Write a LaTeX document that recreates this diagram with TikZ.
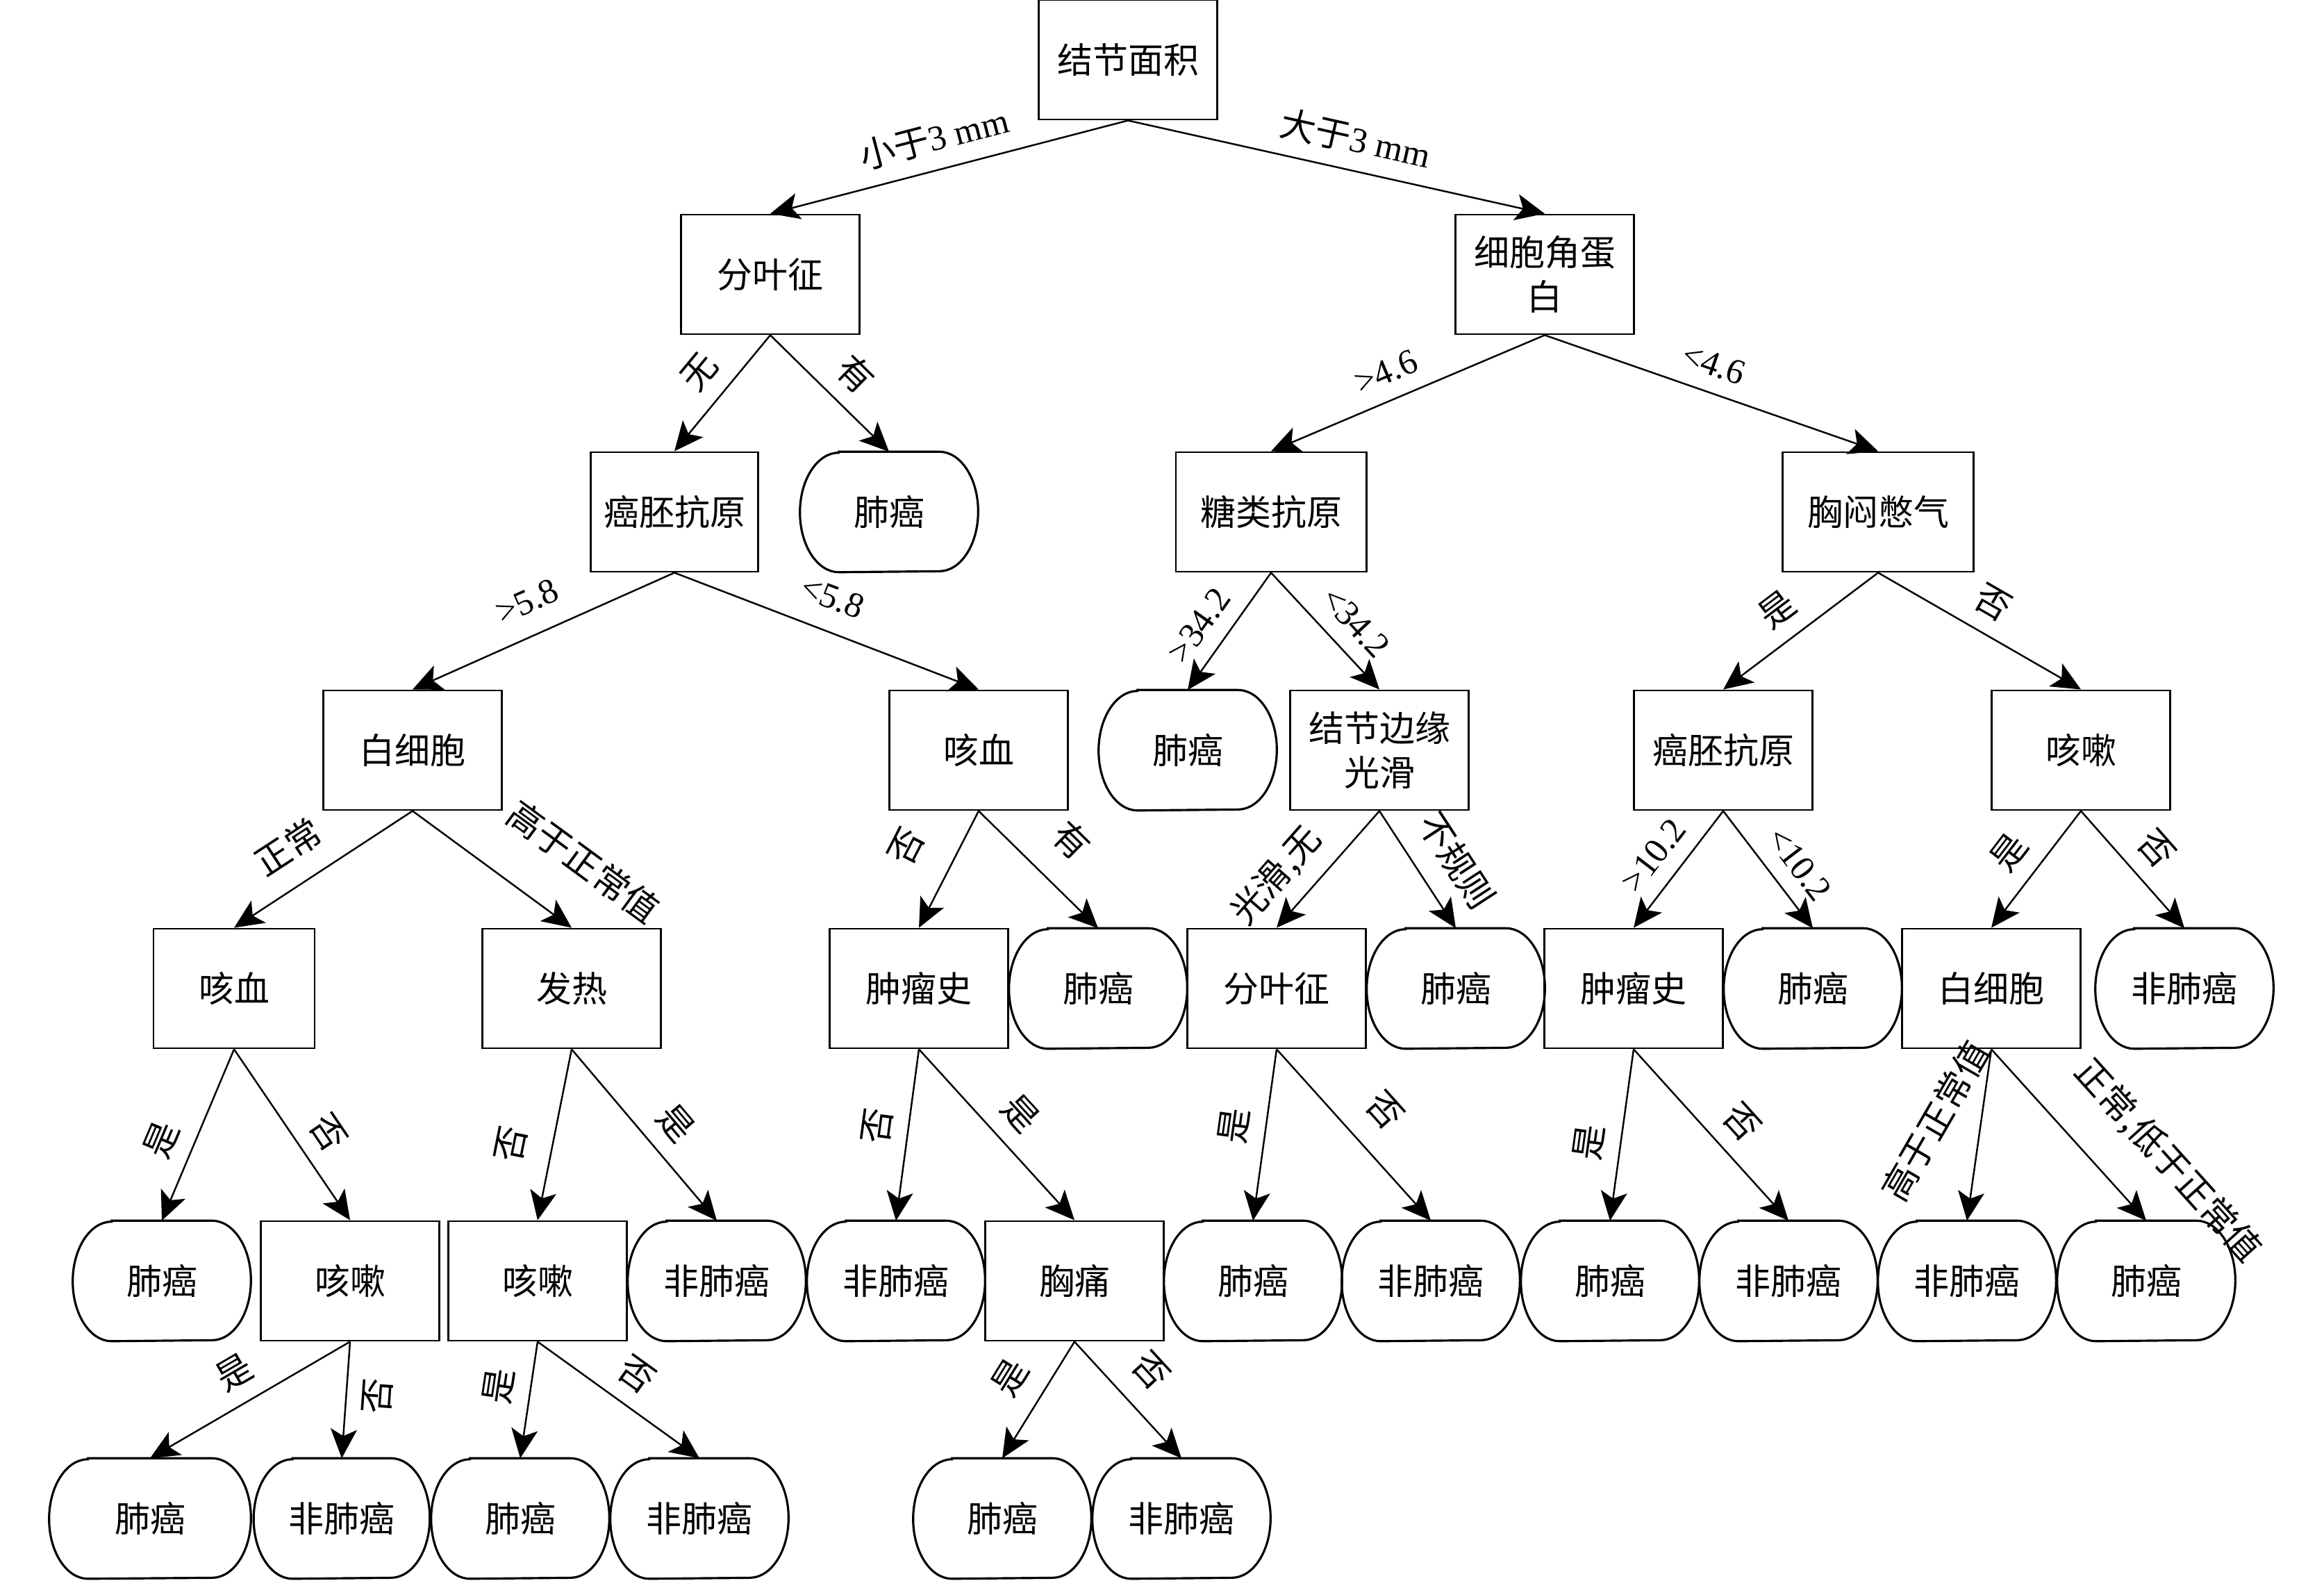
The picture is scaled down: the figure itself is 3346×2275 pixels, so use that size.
\documentclass[tikz,border=0pt]{standalone}
\usepackage{fontspec}
\setmainfont{Liberation Serif}
\newfontfamily\cjk{Noto Sans CJK SC}
\usetikzlibrary{arrows.meta,calc}
\begin{document}
\begin{tikzpicture}[x=0.01cm,y=-0.01cm,
  txt/.style={font=\fontsize{14.5}{17}\selectfont},
  box/.style={txt, draw, line width=0.8pt, minimum height=1.72cm, minimum width=2.57cm, inner sep=0pt, align=center, font=\fontsize{14.5}{18}\selectfont\cjk},
  term/.style={txt, minimum height=1.72cm, minimum width=2.55cm, inner sep=0pt, font=\fontsize{14.5}{17}\selectfont\cjk},
  edge/.style={line width=0.7pt, -{Stealth[length=0.42cm,width=0.38cm,inset=0.1cm]}},
  lab/.style={txt, sloped, above, inner sep=0.22cm},
  outline/.style={line width=0.9pt}
]
\useasboundingbox (0,0) rectangle (3346,2275);
% row 0
\node[box] (n0) at (1624,86) {结节面积};
% row 1
\node[box] (n1) at (1109,395) {分叶征};
\node[box] (n2) at (2224,395) {细胞角蛋\\白};
% row 2
\node[box, minimum width=2.41cm] (n3) at (971,737) {癌胚抗原};
\node[term] (n4) at (1280,737) {肺癌};
\node[box, minimum width=2.74cm] (n5) at (1830,737) {糖类抗原};
\node[box, minimum width=2.75cm] (n6) at (2704,737) {胸闷憋气};
% row 3
\node[box] (n7) at (594,1080) {白细胞};
\node[box] (n8) at (1409,1080) {咳血};
\node[term] (n9) at (1710,1080) {肺癌};
\node[box] (n10) at (1986,1080) {结节边缘\\光滑};
\node[box] (n11) at (2481,1080) {癌胚抗原};
\node[box] (n12) at (2996,1080) {咳嗽};
% row 4
\node[box, minimum width=2.32cm] (n13) at (337,1423) {咳血};
\node[box] (n14) at (823,1423) {发热};
\node[box] (n15) at (1323,1423) {肿瘤史};
\node[term] (n16) at (1581,1423) {肺癌};
\node[box] (n17) at (1838,1423) {分叶征};
\node[term] (n18) at (2096,1423) {肺癌};
\node[box] (n19) at (2352,1423) {肿瘤史};
\node[term] (n20) at (2610,1423) {肺癌};
\node[box] (n21) at (2867,1423) {白细胞};
\node[term] (n22) at (3145,1423) {非肺癌};
% row 5
\node[term] (n23) at (233,1844) {肺癌};
\node[box] (n24) at (504,1844) {咳嗽};
\node[box] (n25) at (774,1844) {咳嗽};
\node[term] (n26) at (1032,1844) {非肺癌};
\node[term] (n27) at (1290,1844) {非肺癌};
\node[box] (n28) at (1547,1844) {胸痛};
\node[term] (n29) at (1804,1844) {肺癌};
\node[term] (n30) at (2060,1844) {非肺癌};
\node[term] (n31) at (2318,1844) {肺癌};
\node[term] (n32) at (2575,1844) {非肺癌};
\node[term] (n33) at (2832,1844) {非肺癌};
\node[term] (n34) at (3090,1844) {肺癌};
% row 6
\node[term, minimum width=2.89cm] (n35) at (216,2186) {肺癌};
\node[term, minimum width=2.52cm] (n36) at (492,2186) {非肺癌};
\node[term] (n37) at (749,2186) {肺癌};
\node[term] (n38) at (1007,2186) {非肺癌};
\node[term] (n39) at (1443,2186) {肺癌};
\node[term] (n40) at (1701,2186) {非肺癌};

% terminal outlines
\foreach \n in {n4,n9,n16,n18,n20,n22,n23,n26,n27,n29,n30,n31,n32,n33,n34,n35,n36,n37,n38,n39,n40} {
  \draw[outline] ($(\n.north west)+(56,0)$) -- ($(\n.north east)+(-56,0)$)
    arc[start angle=90, end angle=-90, x radius=0.56cm, y radius=0.86cm]
    -- ($(\n.south west)+(56,0)$)
    arc[start angle=270, end angle=90, x radius=0.56cm, y radius=0.86cm] -- cycle;
}

% edges
\draw[edge] (n0.south) -- (n1.north) node[lab, pos=0.52] {{\cjk 小于}3 mm};
\draw[edge] (n0.south) -- (n2.north) node[lab, pos=0.53] {{\cjk 大于}3 mm};
\draw[edge] (n1.south) -- (n3.north) node[lab, pos=0.49] {\cjk 无};
\draw[edge] (n1.south) -- (n4.north) node[lab, pos=0.53] {\cjk 有};
\draw[edge] (n2.south) -- (n5.north) node[lab, pos=0.54] {>4.6};
\draw[edge] (n2.south) -- (n6.north) node[lab, pos=0.48] {<4.6};
\draw[edge] (n3.south) -- (n7.north) node[lab, pos=0.51, inner sep=0.3cm] {>5.8};
\draw[edge] (n3.south) -- (n8.north) node[lab, pos=0.48, inner sep=0.3cm] {<5.8};
\draw[edge] (n5.south) -- (n9.north) node[lab, pos=0.59] {>34.2};
\draw[edge] (n5.south) -- (n10.north) node[lab, pos=0.59] {<34.2};
\draw[edge] (n6.south) -- (n11.north) node[lab, pos=0.53] {\cjk 是};
\draw[edge] (n6.south) -- (n12.north) node[lab, pos=0.49] {\cjk 否};
\draw[edge] (n7.south) -- (n13.north) node[lab, pos=0.58, inner sep=0.3cm] {\cjk 正常};
\draw[edge] (n7.south) -- (n14.north) node[lab, pos=0.85, inner sep=0.62cm] {\cjk 高于正常值};
\draw[edge] (n8.south) -- (n15.north) node[lab, pos=0.49, inner sep=0.46cm] {\cjk 否};
\draw[edge] (n8.south) -- (n16.north) node[lab, pos=0.52, inner sep=0.4cm] {\cjk 有};
\draw[edge] (n10.south) -- (n17.north) node[lab, pos=0.75] {\cjk 光滑,无};
\draw[edge] (n10.south) -- (n18.north) node[lab, pos=0.6, inner sep=0.3cm] {\cjk 不规则};
\draw[edge] (n11.south) -- (n19.north) node[lab, pos=0.53] {>10.2};
\draw[edge] (n11.south) -- (n20.north) node[lab, pos=0.6] {<10.2};
\draw[edge] (n12.south) -- (n21.north) node[lab, pos=0.52] {\cjk 是};
\draw[edge] (n12.south) -- (n22.north) node[lab, pos=0.5] {\cjk 否};
\draw[edge] (n13.south) -- (n23.north) node[lab, pos=0.6] {\cjk 是};
\draw[edge] (n13.south) -- (n24.north) node[lab, pos=0.59] {\cjk 否};
\draw[edge] (n14.south) -- (n25.north) node[lab, pos=0.6, inner sep=0.36cm] {\cjk 否};
\draw[edge] (n14.south) -- (n26.north) node[lab, pos=0.55] {\cjk 是};
\draw[edge] (n15.south) -- (n27.north) node[lab, pos=0.47] {\cjk 否};
\draw[edge] (n15.south) -- (n28.north) node[lab, pos=0.5] {\cjk 是};
\draw[edge] (n17.south) -- (n29.north) node[lab, pos=0.47] {\cjk 是};
\draw[edge] (n17.south) -- (n30.north) node[lab, pos=0.51, inner sep=0.34cm] {\cjk 否};
\draw[edge] (n19.south) -- (n31.north) node[lab, pos=0.57] {\cjk 是};
\draw[edge] (n19.south) -- (n32.north) node[lab, pos=0.55] {\cjk 否};
\draw[edge] (n21.south) -- (n33.north) node[lab, pos=0.56, inner sep=0.46cm, rotate=-22] {\cjk 高于正常值};
\draw[edge] (n21.south) -- (n34.north) node[lab, pos=0.87, inner sep=0.53cm] {\cjk 正常,低于正常值};
\draw[edge] (n24.south) -- (n35.north) node[lab, pos=0.5] {\cjk 是};
\draw[edge] (n24.south) -- (n36.north) node[lab, below, pos=0.45] {\cjk 否};
\draw[edge] (n25.south) -- (n37.north) node[lab, pos=0.42] {\cjk 是};
\draw[edge] (n25.south) -- (n38.north) node[lab, pos=0.5] {\cjk 否};
\draw[edge] (n28.south) -- (n39.north) node[lab, pos=0.47, inner sep=0.28cm] {\cjk 是};
\draw[edge] (n28.south) -- (n40.north) node[lab, pos=0.46, inner sep=0.3cm] {\cjk 否};
\end{tikzpicture}
\end{document}
